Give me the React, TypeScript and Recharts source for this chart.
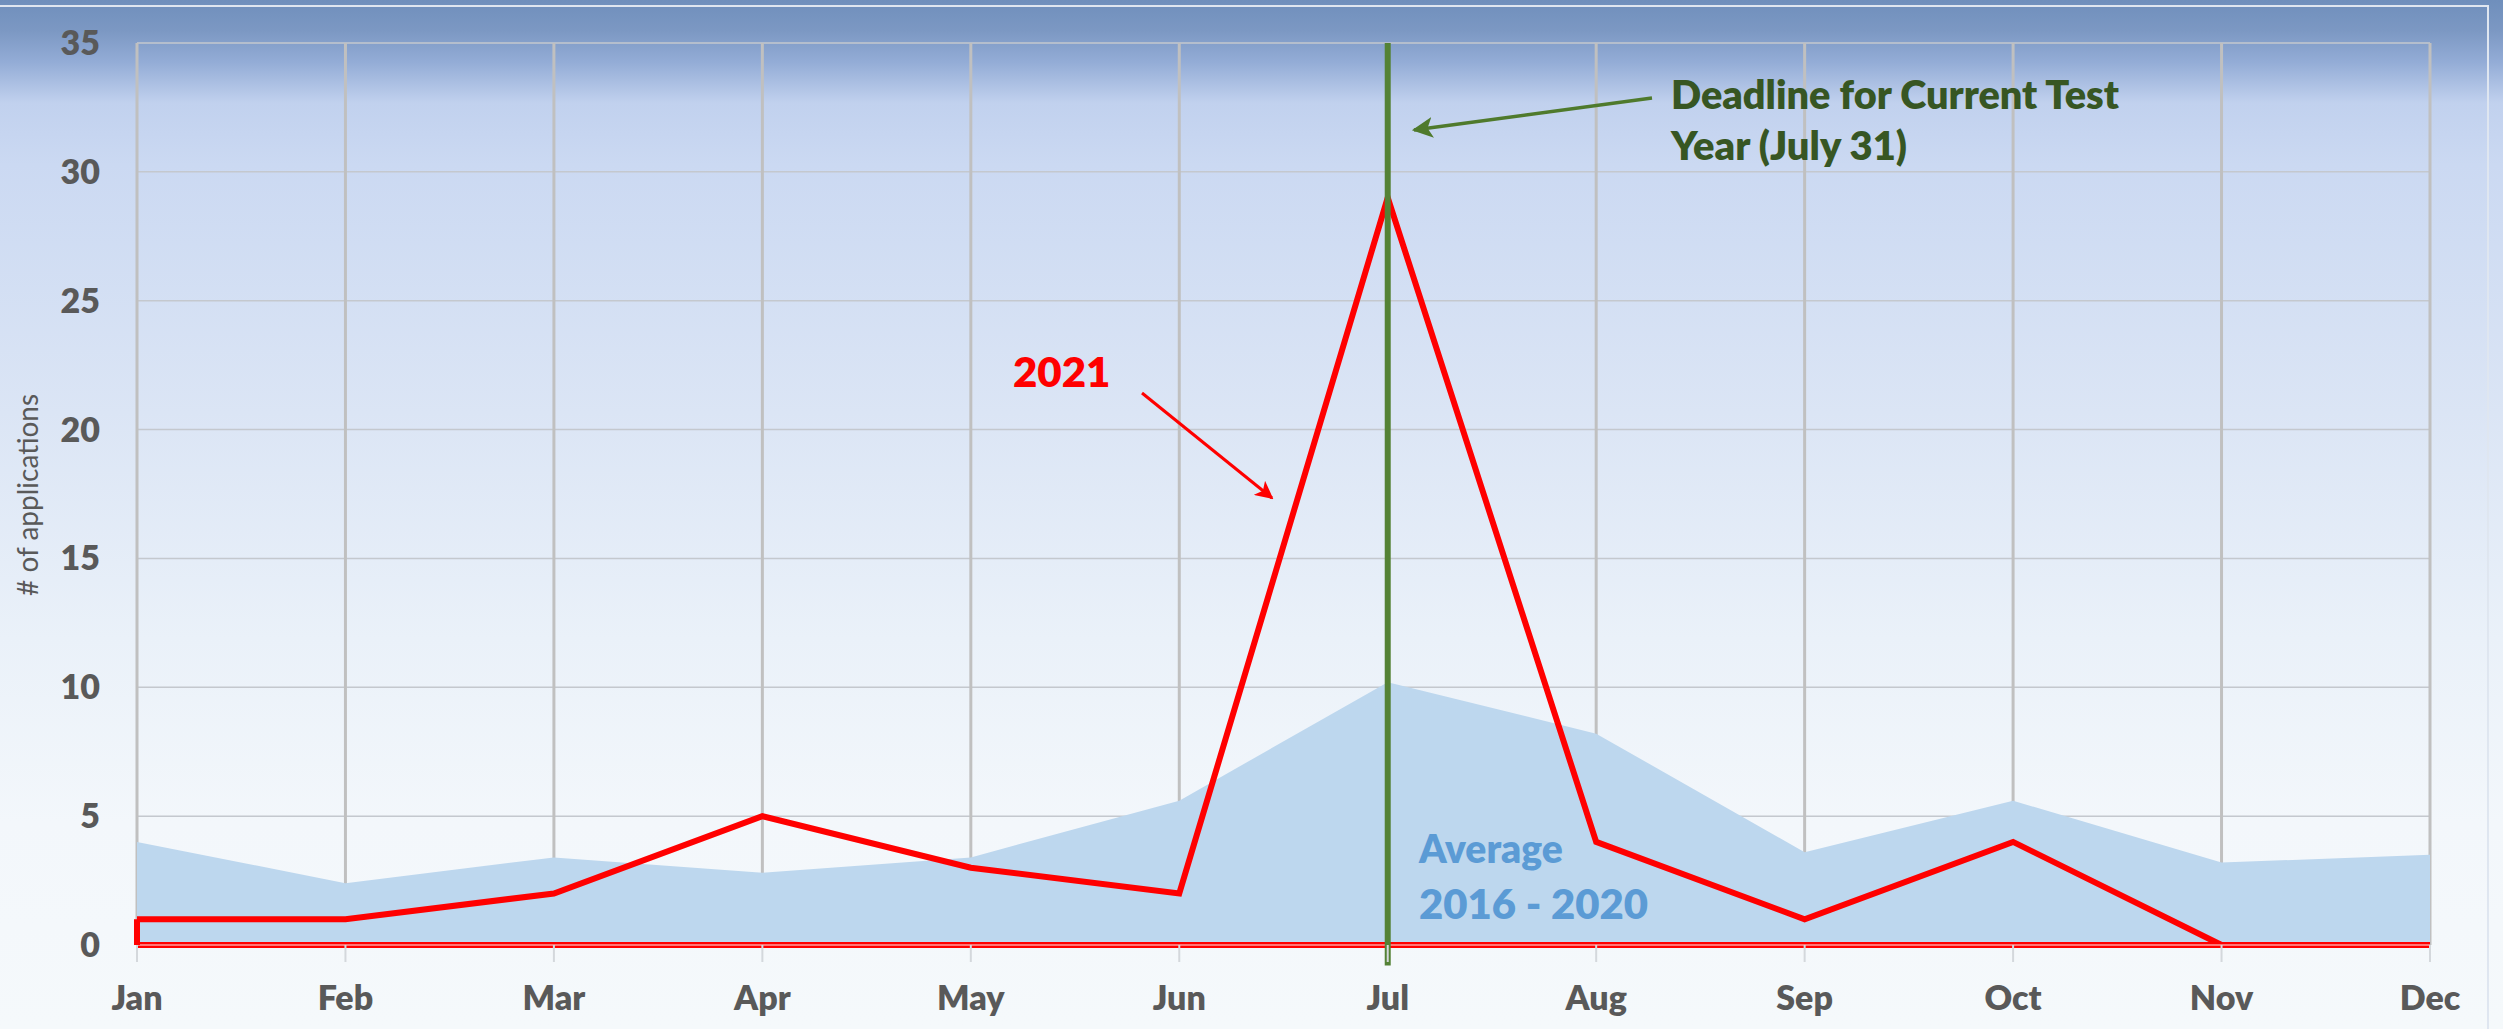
import React from 'react';
import { ComposedChart, Area, Line, XAxis, YAxis, CartesianGrid, ReferenceLine } from 'recharts';

const months = ['Jan', 'Feb', 'Mar', 'Apr', 'May', 'Jun', 'Jul', 'Aug', 'Sep', 'Oct', 'Nov', 'Dec'];
const average2016to2020 = [4.0, 2.4, 3.4, 2.8, 3.4, 5.6, 10.2, 8.2, 3.6, 5.6, 3.2, 3.5];
const applications2021 = [1, 1, 2, 5, 3, 2, 29, 4, 1, 4, 0, 0];
const yTicks = [0, 5, 10, 15, 20, 25, 30, 35];
const deadlineMonth = 'Jul';

const data = months.map((m, i) => ({ month: m, avg: average2016to2020[i], y2021: applications2021[i] }));

const W = 2503;
const H = 1029;
const FONT = 'Lato, "Open Sans", sans-serif';

export default function App() {
  return (
    <div style={{ position: 'absolute', left: 0, top: 0, width: W, height: H, overflow: 'hidden' }}>
      <svg width={W} height={H} style={{ position: 'absolute', left: 0, top: 0 }}>
        <defs>
          <linearGradient id="bg" x1="0" y1="0" x2="0" y2="1">
            <stop offset="0" stopColor="#6f8fbc" />
            <stop offset="0.03" stopColor="#7c98c3" />
            <stop offset="0.06" stopColor="#93acd6" />
            <stop offset="0.1" stopColor="#c1d1ee" />
            <stop offset="0.16" stopColor="#cbd9f2" />
            <stop offset="0.4" stopColor="#dbe5f5" />
            <stop offset="0.62" stopColor="#eaf1f9" />
            <stop offset="0.8" stopColor="#f3f7fb" />
            <stop offset="1" stopColor="#f5f9fb" />
          </linearGradient>
        </defs>
        <rect x={0} y={0} width={W} height={H} fill="url(#bg)" />
        <polyline points={`0,6 2488,6 2488,${H}`} fill="none" stroke="#dfe6f0" strokeWidth={2} />
      </svg>
      <div style={{ position: 'absolute', left: 0, top: 0 }}>
        <ComposedChart width={W} height={H} data={data} margin={{ top: 43, right: 73, left: 0, bottom: 0 }}>
          <CartesianGrid horizontal={true} vertical={false} stroke="#c4c8ce" strokeWidth={1.5} />
          <CartesianGrid horizontal={false} vertical={true} stroke="#c0c0c0" strokeWidth={3} />
          <XAxis
            dataKey="month"
            scale="point"
            padding={{ left: 0, right: 0 }}
            height={84}
            axisLine={false}
            tickLine={{ stroke: '#d4d8dc', strokeWidth: 2 }}
            tickSize={17}
            tickMargin={24}
            tick={{ fill: '#595959', fontSize: 34, fontWeight: 800, fontFamily: FONT }}
            interval={0}
          />
          <YAxis
            width={137}
            domain={[0, 35]}
            ticks={yTicks}
            allowDataOverflow
            axisLine={false}
            tickLine={false}
            tickSize={0}
            tickMargin={37}
            tick={{ fill: '#595959', fontSize: 34, fontWeight: 800, fontFamily: FONT }}
          />
          <Area
            type="linear"
            dataKey="avg"
            fill="#bdd7ee"
            fillOpacity={1}
            stroke="none"
            isAnimationActive={false}
            dot={false}
            activeDot={false}
          />
          <Line
            type="linear"
            dataKey="y2021"
            stroke="#ff0000"
            strokeWidth={6}
            dot={false}
            activeDot={false}
            isAnimationActive={false}
            strokeLinejoin="miter"
          />
          <ReferenceLine y={0} stroke="#ff0000" strokeWidth={6} />
          <ReferenceLine y={0} stroke="#ff9d9d" strokeWidth={1.5} />
          <ReferenceLine
            segment={[{ x: months[0], y: 0 }, { x: months[0], y: applications2021[0] }]}
            stroke="#ff0000"
            strokeWidth={6}
          />
          <ReferenceLine
            segment={[{ x: deadlineMonth, y: -0.8 }, { x: deadlineMonth, y: 35 }]}
            stroke="#548235"
            strokeWidth={6}
            ifOverflow="visible"
          />
        </ComposedChart>
      </div>
      <svg width={W} height={H} style={{ position: 'absolute', left: 0, top: 0, pointerEvents: 'none' }}>
        <defs>
          <marker id="gArrow" viewBox="0 0 10 10" refX="9" refY="5" markerWidth="6" markerHeight="6" orient="auto" markerUnits="strokeWidth">
            <path d="M0,0 L10,5 L0,10 L2.5,5 z" fill="#4f7a2c" />
          </marker>
          <marker id="rArrow" viewBox="0 0 10 10" refX="9" refY="5" markerWidth="6" markerHeight="6" orient="auto" markerUnits="strokeWidth">
            <path d="M0,0 L10,5 L0,10 L2.5,5 z" fill="#ff0000" />
          </marker>
        </defs>
        <text
          x={27}
          y={495}
          transform="rotate(-90 27 495)"
          textAnchor="middle"
          dominantBaseline="central"
          fill="#595959"
          fontSize={28}
          fontFamily={FONT}
        >
          # of applications
        </text>
        <line x1={1652} y1={98} x2={1414} y2={130} stroke="#4f7a2c" strokeWidth={3.5} markerEnd="url(#gArrow)" />
        <text x={1671} y={109} fill="#375623" fontSize={39} fontWeight={800} fontFamily={FONT} textLength={448} lengthAdjust="spacingAndGlyphs">
          Deadline for Current Test
        </text>
        <text x={1671} y={160} fill="#375623" fontSize={39} fontWeight={800} fontFamily={FONT} textLength={236} lengthAdjust="spacingAndGlyphs">
          Year (July 31)
        </text>
        <text x={1013} y={387} fill="#ff0000" fontSize={42} fontWeight={800} fontFamily={FONT}>
          2021
        </text>
        <line x1={1142} y1={393} x2={1272} y2={498} stroke="#ff0000" strokeWidth={3} markerEnd="url(#rArrow)" />
        <text x={1419} y={863} fill="#5b9bd5" fontSize={39} fontWeight={800} fontFamily={FONT}>
          Average
        </text>
        <text x={1419} y={919} fill="#5b9bd5" fontSize={42} fontWeight={800} fontFamily={FONT} textLength={229} lengthAdjust="spacingAndGlyphs">
          2016 - 2020
        </text>
      </svg>
    </div>
  );
}
